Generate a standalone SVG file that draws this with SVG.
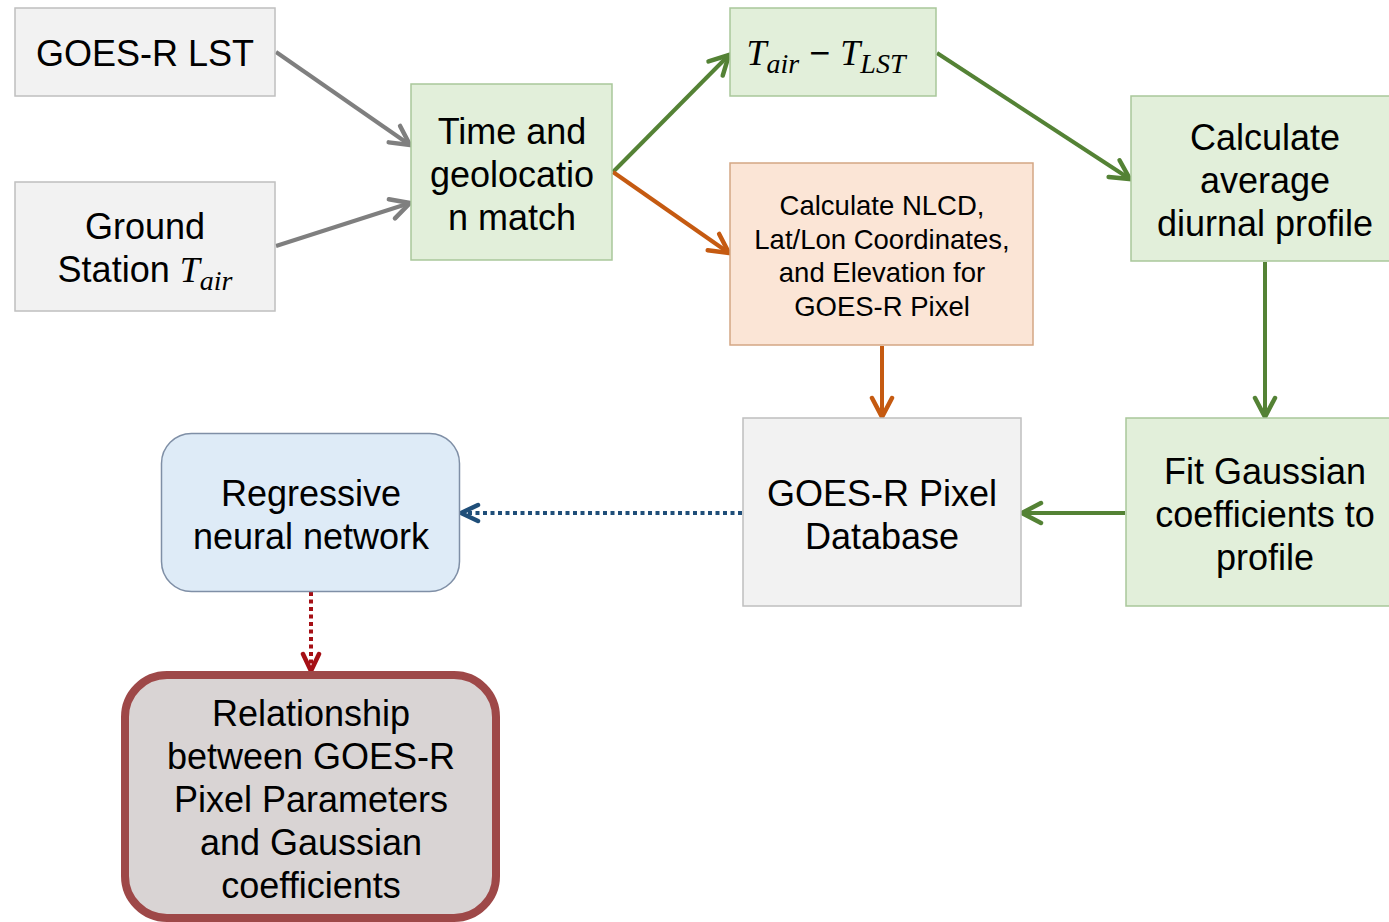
<svg xmlns="http://www.w3.org/2000/svg" width="1389" height="922" viewBox="0 0 1389 922">
<style>
.t{font-family:"Liberation Sans",Arial,sans-serif;font-size:36px;fill:#000;text-anchor:middle}
.s{font-size:27.5px}
.m{font-family:"Liberation Serif","Times New Roman",serif;font-style:italic}
.sub{font-size:28px}
.grey{fill:#f2f2f2;stroke:#bfbfbf;stroke-width:1.5}
.green{fill:#e2efda;stroke:#a9c79a;stroke-width:1.5}
.orange{fill:#fbe5d6;stroke:#d4a684;stroke-width:1.5}
.c{fill:none;stroke-width:4}
</style>
<defs>
<marker id="a-grey" viewBox="0 0 26 26" refX="22" refY="13" markerWidth="26" markerHeight="26" markerUnits="userSpaceOnUse" orient="auto"><path d="M3,3 L22,13 L3,23" fill="none" stroke="#7f7f7f" stroke-width="4.5" stroke-linecap="round"/></marker>
<marker id="a-green" viewBox="0 0 26 26" refX="22" refY="13" markerWidth="26" markerHeight="26" markerUnits="userSpaceOnUse" orient="auto"><path d="M3,3 L22,13 L3,23" fill="none" stroke="#548235" stroke-width="4.5" stroke-linecap="round"/></marker>
<marker id="a-orange" viewBox="0 0 26 26" refX="22" refY="13" markerWidth="26" markerHeight="26" markerUnits="userSpaceOnUse" orient="auto"><path d="M3,3 L22,13 L3,23" fill="none" stroke="#c55a11" stroke-width="4.5" stroke-linecap="round"/></marker>
<marker id="a-blue" viewBox="0 0 26 26" refX="22" refY="13" markerWidth="26" markerHeight="26" markerUnits="userSpaceOnUse" orient="auto"><path d="M5,5 L22,13 L5,21" fill="none" stroke="#1f4e79" stroke-width="4.5" stroke-linecap="round"/></marker>
<marker id="a-red" viewBox="0 0 26 26" refX="22" refY="13" markerWidth="26" markerHeight="26" markerUnits="userSpaceOnUse" orient="auto"><path d="M5,5 L22,13 L5,21" fill="none" stroke="#a50f15" stroke-width="4.5" stroke-linecap="round"/></marker>
</defs>

<g id="connectors">
<line class="c" x1="276" y1="52" x2="410" y2="145" stroke="#7f7f7f" marker-end="url(#a-grey)"/>
<line class="c" x1="276" y1="246" x2="410" y2="203" stroke="#7f7f7f" marker-end="url(#a-grey)"/>
<line class="c" x1="613" y1="172" x2="729" y2="55" stroke="#548235" marker-end="url(#a-green)"/>
<line class="c" x1="613" y1="172" x2="729" y2="253" stroke="#c55a11" marker-end="url(#a-orange)"/>
<line class="c" x1="937" y1="53" x2="1130" y2="179" stroke="#548235" marker-end="url(#a-green)"/>
<line class="c" x1="1265" y1="262" x2="1265" y2="417" stroke="#548235" marker-end="url(#a-green)"/>
<line class="c" x1="882" y1="346" x2="882" y2="417" stroke="#c55a11" marker-end="url(#a-orange)"/>
<line class="c" x1="1125" y1="513" x2="1022" y2="513" stroke="#548235" marker-end="url(#a-green)"/>
<line class="c" x1="742" y1="513" x2="461" y2="513" stroke="#1f4e79" stroke-dasharray="4 3.5" marker-end="url(#a-blue)"/>
<line class="c" x1="311" y1="592" x2="311" y2="671" stroke="#a50f15" stroke-dasharray="4 3.5" marker-end="url(#a-red)"/>
</g>

<g id="goes-lst">
<rect class="grey" x="15" y="8" width="260" height="88"/>
<text class="t" x="145" y="66">GOES-R LST</text>
</g>

<g id="ground-station">
<rect class="grey" x="15" y="182" width="260" height="129"/>
<text class="t" x="145" y="239">Ground</text>
<text class="t" x="145" y="282">Station <tspan class="m">T</tspan><tspan class="m sub" dy="8">air</tspan></text>
</g>

<g id="time-geo">
<rect class="green" x="411" y="84" width="201" height="176"/>
<text class="t" x="512" y="144">Time and</text>
<text class="t" x="512" y="187">geolocatio</text>
<text class="t" x="512" y="230">n match</text>
</g>

<g id="tdiff">
<rect class="green" x="730" y="8" width="206" height="88"/>
<text class="t" x="826" y="65"><tspan class="m">T</tspan><tspan class="m sub" dy="8">air</tspan><tspan dy="-8"> − </tspan><tspan class="m">T</tspan><tspan class="m sub" dy="8">LST</tspan></text>
</g>

<g id="nlcd">
<rect class="orange" x="730" y="163" width="303" height="182"/>
<text class="t s" x="882" y="215">Calculate NLCD,</text>
<text class="t s" x="882" y="249">Lat/Lon Coordinates,</text>
<text class="t s" x="882" y="282">and Elevation for</text>
<text class="t s" x="882" y="316">GOES-R Pixel</text>
</g>

<g id="diurnal">
<rect class="green" x="1131" y="96" width="262" height="165"/>
<text class="t" x="1265" y="150">Calculate</text>
<text class="t" x="1265" y="193">average</text>
<text class="t" x="1265" y="236">diurnal profile</text>
</g>

<g id="gaussian">
<rect class="green" x="1126" y="418" width="267" height="188"/>
<text class="t" x="1265" y="484">Fit Gaussian</text>
<text class="t" x="1265" y="527">coefficients to</text>
<text class="t" x="1265" y="570">profile</text>
</g>

<g id="database">
<rect class="grey" x="743" y="418" width="278" height="188"/>
<text class="t" x="882" y="506">GOES-R Pixel</text>
<text class="t" x="882" y="549">Database</text>
</g>

<g id="rnn">
<rect x="161.5" y="433.5" width="298" height="158" rx="30" fill="#deebf7" stroke="#7f8fa6" stroke-width="1.5"/>
<text class="t" x="311" y="506">Regressive</text>
<text class="t" x="311" y="549">neural network</text>
</g>

<g id="relationship">
<rect x="125" y="675" width="371" height="243" rx="42" fill="#d9d4d4" stroke="#9e4848" stroke-width="8"/>
<text class="t" x="311" y="726">Relationship</text>
<text class="t" x="311" y="769">between GOES-R</text>
<text class="t" x="311" y="812">Pixel Parameters</text>
<text class="t" x="311" y="855">and Gaussian</text>
<text class="t" x="311" y="898">coefficients</text>
</g>
</svg>
